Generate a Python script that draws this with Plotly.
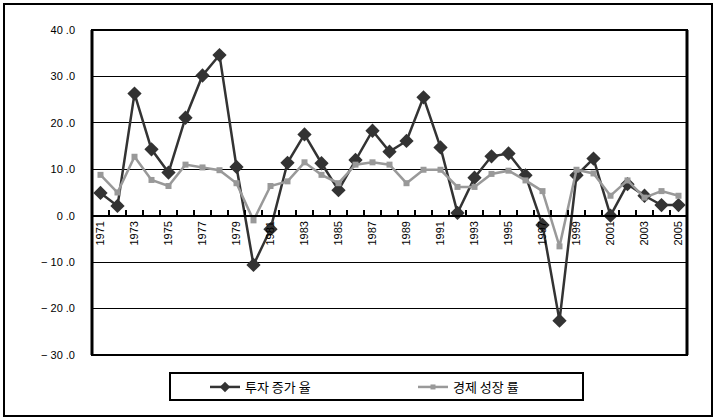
import plotly.graph_objects as go

# Annual rates (%), 1971-2005
years = list(range(1971, 2006))
investment_growth = [4.9, 2.1, 26.3, 14.3, 9.3, 21.1, 30.2, 34.6, 10.5, -10.6,
                     -2.9, 11.4, 17.5, 11.3, 5.5, 12.0, 18.3, 13.8, 16.1, 25.5,
                     14.7, 0.6, 8.2, 12.8, 13.4, 8.7, -2.0, -22.6, 8.7, 12.3,
                     0.0, 6.8, 4.3, 2.3, 2.3]
gdp_growth = [8.8, 5.0, 12.7, 7.7, 6.4, 11.0, 10.4, 9.8, 7.0, -1.0,
              6.4, 7.4, 11.5, 8.8, 7.0, 11.0, 11.5, 11.0, 7.0, 9.9,
              9.9, 6.2, 6.2, 9.0, 9.7, 7.6, 5.3, -6.6, 9.9, 9.1,
              4.3, 7.6, 3.9, 5.3, 4.3]

legend_names = ["투자 증가 율", "경제 성장 률"]

y_ticks = [40, 30, 20, 10, 0, -10, -20, -30]
y_ticktext = ["40 .0", "30 .0", "20 .0", "10 .0", "0 .0", "− 10 .0", "− 20 .0", "− 30 .0"]
x_tickvals = years[::2]
x_ticktext = [str(y) for y in x_tickvals]

y_min, y_max = -30, 40

dark, light = "#333333", "#999999"

fig = go.Figure()
fig.add_trace(go.Scatter(
    x=years, y=investment_growth, name=legend_names[0], mode="lines+markers",
    line=dict(color=dark, width=2.5),
    marker=dict(symbol="diamond", size=11, color=dark), showlegend=False,
))
fig.add_trace(go.Scatter(
    x=years, y=gdp_growth, name=legend_names[1], mode="lines+markers",
    line=dict(color=light, width=2.5),
    marker=dict(symbol="square", size=6, color=light), showlegend=False,
))
# legend entries with smaller symbols
fig.add_trace(go.Scatter(
    x=[None], y=[None], name=legend_names[0], mode="lines+markers",
    line=dict(color=dark, width=2.5),
    marker=dict(symbol="diamond", size=8, color=dark),
))
fig.add_trace(go.Scatter(
    x=[None], y=[None], name=legend_names[1], mode="lines+markers",
    line=dict(color=light, width=2.5),
    marker=dict(symbol="square", size=5, color=light),
))

L, R, T, B = 92, 29, 30, 65
W, H = 716, 420
pw, ph = W - L - R, H - T - B


def px(x):
    return (x - L) / pw


def py(y):
    return (H - B - y) / ph


zero_pos = (0 - y_min) / (y_max - y_min)

fig.update_layout(
    width=W, height=H,
    margin=dict(l=L, r=R, t=T, b=B, autoexpand=False),
    paper_bgcolor="white", plot_bgcolor="white",
    font=dict(family="Noto Sans CJK KR, Noto Sans, sans-serif", color="black"),
    showlegend=True,
    legend=dict(
        orientation="h", x=px(205), y=py(387), xanchor="left", yanchor="middle",
        bgcolor="rgba(0,0,0,0)", borderwidth=0,
        font=dict(size=13, color="black"),
        entrywidth=163, entrywidthmode="pixels", itemwidth=30,
    ),
    xaxis=dict(
        range=[1970.5, 2005.5], anchor="free", position=zero_pos,
        showline=True, linecolor="black", linewidth=2,
        tickmode="array", tickvals=x_tickvals, ticktext=x_ticktext,
        tickangle=-90, ticks="", tickfont=dict(size=11, family="Liberation Sans, Arial"),
        showgrid=False, zeroline=False,
        minor=dict(tickmode="linear", tick0=1970.5, dtick=1, ticks="inside",
                   ticklen=5, tickwidth=2, tickcolor="black", showgrid=False),
    ),
    yaxis=dict(
        range=[y_min, y_max], tickmode="array", tickvals=y_ticks, ticktext=y_ticktext,
        showgrid=True, gridcolor="black", gridwidth=1,
        zeroline=True, zerolinecolor="black", zerolinewidth=2,
        showline=False, ticks="", ticklabelstandoff=16,
        tickfont=dict(size=11, family="Liberation Sans, Arial"),
    ),
    shapes=[
        # plot frame
        dict(type="rect", xref="paper", yref="paper", x0=0, x1=1, y0=0, y1=1,
             line=dict(color="black", width=2), layer="above"),
        dict(type="line", xref="paper", yref="paper", x0=0, x1=0, y0=0, y1=1,
             line=dict(color="black", width=3), layer="above"),
        dict(type="line", xref="paper", yref="paper", x0=1, x1=1, y0=0, y1=1,
             line=dict(color="black", width=3), layer="above"),
        # legend box
        dict(type="rect", xref="paper", yref="paper", x0=px(170), x1=px(583),
             y0=py(400), y1=py(373), line=dict(color="black", width=2)),
        # outer border
        dict(type="rect", xref="paper", yref="paper", x0=px(4), x1=px(712),
             y0=py(416), y1=py(4), line=dict(color="black", width=2)),
    ],
)

fig.write_html("out.html")
